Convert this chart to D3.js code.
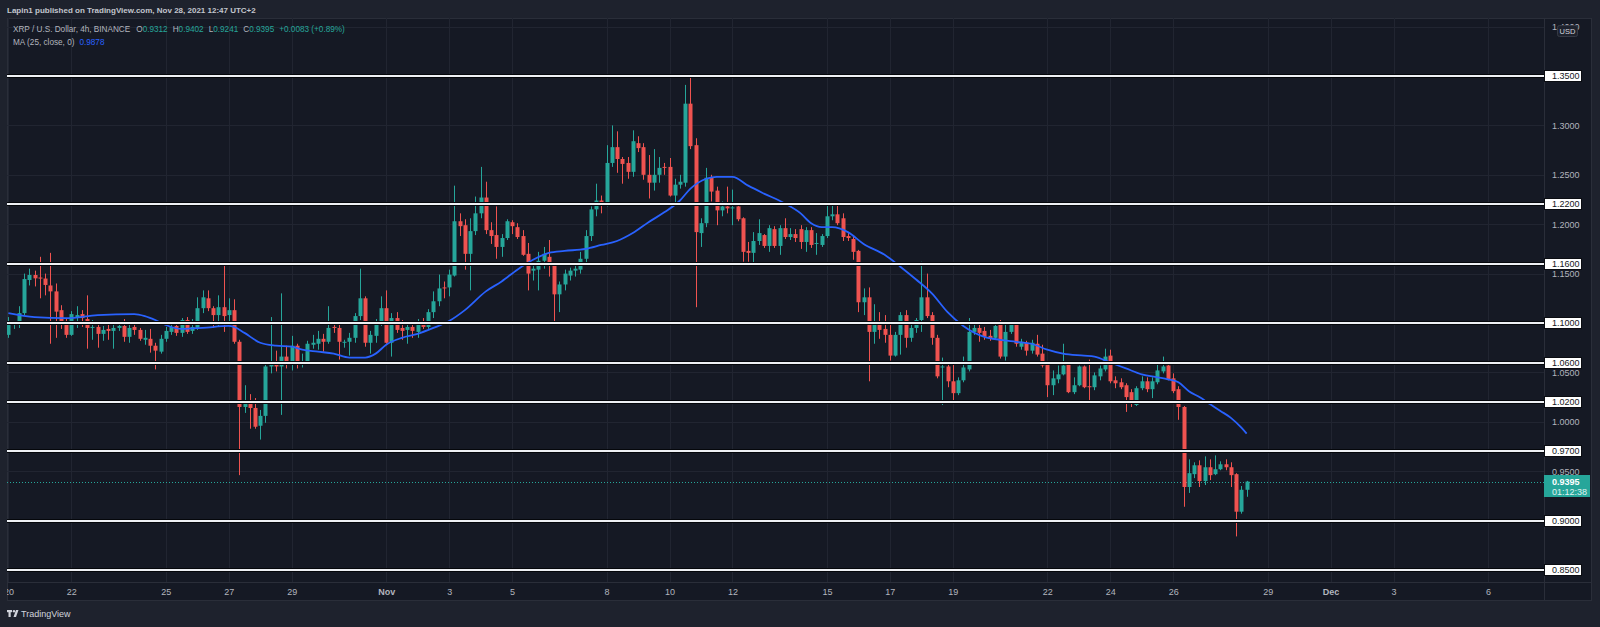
<!DOCTYPE html>
<html>
<head>
<meta charset="utf-8">
<script src="https://cdn.jsdelivr.net/npm/d3@7"></script>
<style>
  html, body { margin: 0; padding: 0; background: #1e222d; }
  svg { display: block; }
  text { font-family: "Liberation Sans", Arial, sans-serif; }
</style>
</head>
<body>
<div id="chart"></div>
<script>
// XRP / USD, 4h candles from Oct 20 2021 00:00
var opens = [
  1.088,1.098,1.100,1.110,1.1435,1.1486,1.146,1.145,1.138,1.132,
  1.113,1.098,1.088,1.106,1.109,1.104,1.095,1.096,1.089,1.094,
  1.092,1.095,1.097,1.086,1.096,1.093,1.083,1.084,1.077,1.071,
  1.084,1.091,1.097,1.090,1.103,1.092,1.095,1.115,1.125,1.115,
  1.108,1.116,1.108,1.113,1.081,1.015,1.022,1.014,0.996,1.006,
  1.056,1.060,1.056,1.066,1.059,1.077,1.058,1.061,1.078,1.079,
  1.084,1.081,1.096,1.095,1.081,1.081,1.085,1.107,1.125,1.080,
  1.087,1.100,1.115,1.080,1.105,1.095,1.093,1.096,1.091,1.100,
  1.096,1.111,1.122,1.136,1.136,1.148,1.203,1.199,1.170,1.193,
  1.211,1.227,1.194,1.189,1.177,1.186,1.202,1.197,1.188,1.170,
  1.153,1.154,1.163,1.167,1.158,1.129,1.139,1.148,1.153,1.154,
  1.165,1.188,1.215,1.224,1.220,1.262,1.278,1.266,1.262,1.253,
  1.282,1.278,1.250,1.242,1.250,1.258,1.258,1.229,1.240,1.242,
  1.322,1.280,1.191,1.201,1.247,1.234,1.214,1.218,1.216,1.218,
  1.206,1.173,1.171,1.183,1.189,1.178,1.195,1.178,1.196,1.187,
  1.190,1.195,1.182,1.194,1.180,1.179,1.188,1.208,1.210,1.206,
  1.188,1.185,1.173,1.121,1.126,1.091,1.100,1.094,1.088,1.067,
  1.088,1.108,1.085,1.095,1.103,1.126,1.108,1.085,1.055,1.056,
  1.041,1.029,1.042,1.053,1.091,1.095,1.092,1.087,1.085,1.098,
  1.066,1.091,1.098,1.076,1.080,1.072,1.079,1.069,1.059,1.037,
  1.043,1.048,1.058,1.030,1.037,1.056,1.036,1.035,1.046,1.053,
  1.067,1.042,1.040,1.037,1.030,1.017,1.034,1.041,1.033,1.040,
  1.051,1.057,1.044,1.033,1.015,0.934,0.947,0.956,0.940,0.954,
  0.947,0.952,0.957,0.954,0.947,0.909,0.9312
];
var highs = [
  1.106,1.102,1.117,1.150,1.155,1.153,1.167,1.150,1.171,1.140,
  1.118,1.105,1.112,1.117,1.113,1.128,1.103,1.100,1.097,1.102,
  1.099,1.101,1.104,1.098,1.100,1.095,1.093,1.094,1.080,1.088,
  1.096,1.099,1.101,1.105,1.106,1.104,1.126,1.133,1.133,1.117,
  1.128,1.160,1.125,1.124,1.083,1.037,1.028,1.024,1.012,1.061,
  1.106,1.072,1.130,1.077,1.087,1.079,1.069,1.082,1.088,1.092,
  1.089,1.117,1.102,1.099,1.083,1.090,1.110,1.155,1.127,1.092,
  1.104,1.127,1.133,1.110,1.111,1.103,1.099,1.098,1.104,1.105,
  1.114,1.132,1.149,1.142,1.154,1.239,1.211,1.205,1.206,1.228,
  1.258,1.243,1.202,1.218,1.190,1.205,1.204,1.201,1.194,1.181,
  1.160,1.172,1.177,1.184,1.160,1.142,1.154,1.156,1.160,1.172,
  1.194,1.218,1.241,1.229,1.280,1.300,1.294,1.268,1.268,1.295,
  1.289,1.282,1.270,1.276,1.268,1.262,1.267,1.246,1.250,1.341,
  1.350,1.287,1.206,1.257,1.250,1.238,1.223,1.238,1.235,1.219,
  1.207,1.182,1.192,1.205,1.190,1.199,1.198,1.199,1.206,1.196,
  1.195,1.199,1.197,1.197,1.191,1.190,1.219,1.221,1.219,1.211,
  1.191,1.187,1.174,1.135,1.136,1.119,1.111,1.108,1.099,1.091,
  1.111,1.113,1.100,1.105,1.162,1.150,1.111,1.088,1.065,1.058,
  1.060,1.045,1.066,1.105,1.098,1.099,1.096,1.093,1.100,1.103,
  1.099,1.100,1.099,1.084,1.082,1.083,1.088,1.078,1.060,1.052,
  1.057,1.079,1.059,1.045,1.057,1.057,1.063,1.050,1.057,1.074,
  1.073,1.046,1.044,1.039,1.033,1.036,1.046,1.045,1.045,1.061,
  1.066,1.058,1.049,1.036,1.016,0.962,0.959,0.961,0.965,0.962,
  0.966,0.960,0.962,0.959,0.948,0.935,0.9402
];
var lows = [
  1.085,1.094,1.095,1.108,1.138,1.137,1.125,1.128,1.079,1.085,
  1.094,1.085,1.087,1.095,1.096,1.074,1.083,1.075,1.082,1.083,
  1.074,1.092,1.081,1.080,1.088,1.082,1.078,1.070,1.053,1.069,
  1.081,1.088,1.087,1.086,1.089,1.089,1.093,1.110,1.112,1.095,
  1.096,1.091,1.098,1.079,0.946,1.009,0.993,0.993,0.982,0.999,
  1.049,1.051,1.007,1.054,1.052,1.054,1.055,1.058,1.074,1.073,
  1.071,1.079,1.090,1.063,1.075,1.067,1.080,1.103,1.076,1.069,
  1.080,1.097,1.079,1.066,1.090,1.083,1.079,1.085,1.085,1.094,
  1.094,1.105,1.117,1.125,1.127,1.147,1.188,1.154,1.133,1.189,
  1.206,1.190,1.180,1.165,1.167,1.184,1.190,1.185,1.168,1.133,
  1.143,1.133,1.155,1.147,1.101,1.111,1.133,1.143,1.147,1.150,
  1.161,1.183,1.208,1.211,1.218,1.258,1.252,1.241,1.246,1.248,
  1.273,1.245,1.226,1.234,1.242,1.250,1.228,1.221,1.236,1.238,
  1.276,1.116,1.177,1.197,1.223,1.199,1.208,1.211,1.199,1.203,
  1.162,1.162,1.159,1.179,1.176,1.172,1.176,1.169,1.185,1.184,
  1.182,1.175,1.172,1.176,1.169,1.177,1.186,1.204,1.199,1.183,
  1.183,1.164,1.111,1.108,1.041,1.079,1.084,1.080,1.062,1.066,
  1.068,1.075,1.081,1.090,1.091,1.105,1.078,1.044,1.017,1.035,
  1.019,1.027,1.040,1.051,1.088,1.081,1.083,1.082,1.083,1.064,
  1.062,1.089,1.076,1.073,1.067,1.069,1.066,1.055,1.025,1.027,
  1.039,1.047,1.029,1.028,1.036,1.034,1.019,1.032,1.042,1.051,
  1.039,1.034,1.033,1.010,1.015,1.016,1.032,1.030,1.024,1.038,
  1.049,1.042,1.029,1.002,0.914,0.928,0.943,0.934,0.936,0.941,
  0.946,0.951,0.951,0.934,0.884,0.907,0.9241
];
var closes = [
  1.101,1.100,1.110,1.1445,1.1486,1.1452,1.145,1.1385,1.132,1.1115,
  1.098,1.088,1.109,1.108,1.105,1.095,1.096,1.089,1.093,1.092,
  1.095,1.097,1.086,1.095,1.093,1.084,1.085,1.077,1.072,1.084,
  1.092,1.096,1.090,1.103,1.091,1.096,1.115,1.126,1.115,1.108,
  1.116,1.107,1.113,1.081,1.015,1.022,1.014,0.995,1.006,1.056,
  1.060,1.056,1.066,1.059,1.077,1.059,1.061,1.079,1.080,1.084,
  1.081,1.095,1.095,1.081,1.081,1.085,1.107,1.125,1.080,1.088,
  1.100,1.115,1.080,1.105,1.093,1.092,1.096,1.092,1.101,1.096,
  1.111,1.122,1.135,1.135,1.149,1.203,1.198,1.170,1.193,1.211,
  1.227,1.194,1.188,1.177,1.186,1.203,1.198,1.187,1.169,1.150,
  1.155,1.163,1.170,1.159,1.129,1.139,1.150,1.153,1.155,1.165,
  1.188,1.215,1.224,1.220,1.262,1.278,1.266,1.261,1.253,1.284,
  1.277,1.250,1.242,1.250,1.257,1.257,1.229,1.240,1.243,1.322,
  1.279,1.192,1.201,1.247,1.233,1.214,1.218,1.216,1.217,1.205,
  1.172,1.171,1.183,1.191,1.178,1.196,1.178,1.196,1.187,1.190,
  1.186,1.182,1.194,1.179,1.181,1.188,1.208,1.210,1.201,1.187,
  1.186,1.172,1.121,1.126,1.091,1.100,1.093,1.088,1.067,1.088,
  1.108,1.085,1.095,1.103,1.126,1.107,1.085,1.046,1.056,1.041,
  1.029,1.042,1.055,1.091,1.095,1.090,1.086,1.084,1.097,1.066,
  1.091,1.098,1.079,1.081,1.072,1.080,1.068,1.057,1.037,1.044,
  1.048,1.057,1.030,1.037,1.056,1.035,1.035,1.047,1.054,1.066,
  1.041,1.039,1.035,1.025,1.018,1.034,1.041,1.033,1.041,1.052,
  1.056,1.043,1.031,1.015,0.934,0.948,0.956,0.940,0.954,0.946,
  0.952,0.957,0.954,0.946,0.909,0.9312,0.9395
];

// MA(25), at these bar numbers
var maBars = [0,5,11,17,24,26,28,30,33,37,42,43,45,48,51,54,56,59,62,65,
  68,70,72,75,78,81,84,87,91,94,97,100,103,106,110,113,116,119,122,125,
  128,130,133,135,138,141,144,148,151,153,155,157,160,163,167,170,173,176,179,182,
  186,189,192,195,198,201,205,207,210,213,216,219,221,223,225,227,229,231,233,235,236];
var maValues = [1.110,1.106,1.105,1.108,1.109,1.107,1.103,1.098,1.094,1.095,
  1.097,1.096,1.090,1.080,1.077,1.076,1.073,1.071,1.069,1.065,
  1.065,1.069,1.078,1.085,1.089,1.095,1.102,1.113,1.132,1.142,
  1.154,1.164,1.171,1.173,1.175,1.179,1.183,1.191,1.202,1.212,
  1.224,1.236,1.246,1.248,1.248,1.239,1.231,1.221,1.211,1.201,
  1.197,1.197,1.192,1.180,1.169,1.157,1.144,1.130,1.111,1.097,
  1.086,1.083,1.081,1.079,1.073,1.069,1.067,1.066,1.060,1.054,
  1.048,1.045,1.043,1.040,1.031,1.025,1.018,1.011,1.004,0.994,0.988];

// horizontal support / resistance lines
var levels = [1.35, 1.22, 1.16, 1.10, 1.06, 1.02, 0.97, 0.90, 0.85];
var priceTicks = [0.85,0.90,0.95,1.00,1.05,1.10,1.15,1.20,1.25,1.30,1.35,1.40];
var dateTicks = ["2021-10-20","2021-10-22","2021-10-25","2021-10-27","2021-10-29",
  "2021-11-01","2021-11-03","2021-11-05","2021-11-08","2021-11-10","2021-11-12",
  "2021-11-15","2021-11-17","2021-11-19","2021-11-22","2021-11-24","2021-11-26",
  "2021-11-29","2021-12-01","2021-12-03","2021-12-06"];
var lastPrice = 0.9395;
var maLast = 0.9878;

var W = 1600, H = 627;
var paneL = 7, paneR = 1544, paneT = 18, paneB = 582, axisR = 1592, axisB = 601;
var upCol = "#26a69a", downCol = "#ef5350";

var svg = d3.select("#chart").append("svg").attr("width", W).attr("height", H);

svg.append("rect").attr("width", W).attr("height", H).attr("fill", "#1e222d");
svg.append("rect")
  .attr("x", paneL + 0.5).attr("y", paneT + 0.5)
  .attr("width", axisR - paneL - 1).attr("height", axisB - paneT - 1)
  .attr("fill", "#151924").attr("stroke", "#2a2e39");

var defs = svg.append("defs");
defs.append("clipPath").attr("id", "pane")
  .append("rect").attr("x", paneL).attr("y", paneT).attr("width", paneR - paneL).attr("height", paneB - paneT);
defs.append("clipPath").attr("id", "timeaxis")
  .append("rect").attr("x", paneL).attr("y", paneB).attr("width", paneR - paneL).attr("height", axisB - paneB);
// top tick (1.4000) is mostly hidden by the USD badge
defs.append("clipPath").attr("id", "priceaxis")
  .append("rect").attr("x", paneR).attr("y", 22).attr("width", axisR - paneR).attr("height", axisB - 22);

var parseDay = d3.utcParse("%Y-%m-%d");
var tickDates = dateTicks.map(parseDay);
var start = Date.UTC(2021, 9, 20);
var times = closes.map(function (c, i) { return new Date(start + i * 4 * 3600 * 1000); });

var x = d3.scaleUtc()
  .domain([parseDay("2021-10-20"), parseDay("2021-12-01")])
  .range([8.4, 1330.6]);
var y = d3.scaleLinear().domain([0.85, 1.35]).range([570, 76]);

// grid
var grid = svg.append("g").attr("clip-path", "url(#pane)");
grid.selectAll(".hg").data(priceTicks).join("line")
  .attr("x1", paneL).attr("x2", paneR)
  .attr("y1", function (d) { return Math.round(y(d)) + 0.5; })
  .attr("y2", function (d) { return Math.round(y(d)) + 0.5; })
  .attr("stroke", "#212531");
grid.selectAll(".vg").data(tickDates).join("line")
  .attr("x1", function (d) { return Math.round(x(d)) + 0.5; })
  .attr("x2", function (d) { return Math.round(x(d)) + 0.5; })
  .attr("y1", paneT).attr("y2", paneB)
  .attr("stroke", "#212531");

// separators
svg.append("line").attr("x1", paneR + 0.5).attr("x2", paneR + 0.5).attr("y1", paneT).attr("y2", axisB).attr("stroke", "#2a2e39");
svg.append("line").attr("x1", paneL).attr("x2", axisR).attr("y1", paneB + 0.5).attr("y2", paneB + 0.5).attr("stroke", "#2a2e39");

var plot = svg.append("g").attr("clip-path", "url(#pane)");

// last price dotted line
plot.append("line")
  .attr("x1", paneL).attr("x2", paneR)
  .attr("y1", Math.round(y(lastPrice)) + 0.5).attr("y2", Math.round(y(lastPrice)) + 0.5)
  .attr("stroke", upCol).attr("stroke-dasharray", "1,2");

var candles = times.map(function (t, i) {
  return { t: t, o: opens[i], h: highs[i], l: lows[i], c: closes[i] };
});
function col(d) { return d.c >= d.o ? upCol : downCol; }

plot.selectAll(".wick").data(candles).join("line")
  .attr("x1", function (d) { return Math.round(x(d.t)) + 0.5; })
  .attr("x2", function (d) { return Math.round(x(d.t)) + 0.5; })
  .attr("y1", function (d) { return y(d.h); })
  .attr("y2", function (d) { return y(d.l); })
  .attr("stroke", col);

plot.selectAll(".body").data(candles).join("rect")
  .attr("x", function (d) { return Math.round(x(d.t)) - 1.5; })
  .attr("width", 4)
  .attr("y", function (d) { return y(Math.max(d.o, d.c)); })
  .attr("height", function (d) { return Math.max(1, Math.abs(y(d.o) - y(d.c))); })
  .attr("fill", col);

// moving average
var maPts = maBars.map(function (b, i) { return { t: times[b], v: maValues[i] }; });
plot.append("path").datum(maPts)
  .attr("d", d3.line().x(function (d) { return x(d.t); }).y(function (d) { return y(d.v); }).curve(d3.curveMonotoneX))
  .attr("fill", "none").attr("stroke", "#2962ff").attr("stroke-width", 1.8);

// level lines
var lv = plot.selectAll(".lvl").data(levels).join("g");
lv.append("line")
  .attr("x1", paneL).attr("x2", paneR)
  .attr("y1", function (d) { return Math.round(y(d)); })
  .attr("y2", function (d) { return Math.round(y(d)); })
  .attr("stroke", "#05070b").attr("stroke-width", 4);
lv.append("line")
  .attr("x1", paneL).attr("x2", paneR)
  .attr("y1", function (d) { return Math.round(y(d)); })
  .attr("y2", function (d) { return Math.round(y(d)); })
  .attr("stroke", "#eef0f4").attr("stroke-width", 2);

// time axis
var xAxis = svg.append("g").attr("clip-path", "url(#timeaxis)")
  .append("g").attr("transform", "translate(0," + paneB + ")")
  .call(d3.axisBottom(x).tickValues(tickDates).tickSize(0).tickPadding(7)
    .tickFormat(function (d) { return d.getUTCDate() === 1 ? d3.utcFormat("%b")(d) : d.getUTCDate(); }));
xAxis.select(".domain").remove();
xAxis.selectAll("text").attr("fill", "#b2b5be").attr("font-size", 9)
  .attr("font-weight", function (d) { return d.getUTCDate() === 1 ? "bold" : null; });

// price axis
var yAxis = svg.append("g").attr("clip-path", "url(#priceaxis)")
  .append("g").attr("transform", "translate(" + paneR + ",0)")
  .call(d3.axisRight(y).tickValues(priceTicks).tickSize(0).tickPadding(8).tickFormat(d3.format(".4f")));
yAxis.select(".domain").remove();
yAxis.selectAll("text").attr("fill", "#b2b5be").attr("font-size", 9);

// level price boxes
var lb = svg.selectAll(".lb").data(levels).join("g")
  .attr("transform", function (d) { return "translate(" + paneR + "," + Math.round(y(d)) + ")"; });
lb.append("rect").attr("x", 0.5).attr("y", -5.5).attr("width", 37).attr("height", 11)
  .attr("fill", "#ffffff").attr("stroke", "#0b0d12");
lb.append("text").attr("x", 8).attr("y", 3.3).attr("font-size", 9).attr("fill", "#131722")
  .text(function (d) { return d3.format(".4f")(d); });

// last price label
var lp = svg.append("g").attr("transform", "translate(" + paneR + "," + Math.round(y(lastPrice)) + ")");
lp.append("rect").attr("x", 0).attr("y", -7).attr("width", 46).attr("height", 22).attr("fill", upCol);
lp.append("text").attr("x", 8).attr("y", 2.5).attr("font-size", 9).attr("font-weight", "bold").attr("fill", "#ffffff").text(d3.format(".4f")(lastPrice));
lp.append("text").attr("x", 8).attr("y", 12.5).attr("font-size", 9).attr("fill", "#e0f2f1").text("01:12:38");

// USD badge
svg.append("rect").attr("x", 1557.5).attr("y", 25.5).attr("width", 20).attr("height", 11).attr("rx", 2)
  .attr("fill", "#1e222d").attr("stroke", "#363a45");
svg.append("text").attr("x", 1567.5).attr("y", 33.5).attr("text-anchor", "middle").attr("font-size", 7.5)
  .attr("fill", "#d1d4dc").text("USD");

// header
svg.append("text").attr("x", 7).attr("y", 13).attr("font-size", 8).attr("font-weight", "bold")
  .attr("fill", "#c3c6ce").text("Lapin1 published on TradingView.com, Nov 28, 2021 12:47 UTC+2");

var leg = svg.append("text").attr("x", 13).attr("y", 32).attr("font-size", 8.2).attr("fill", "#b2b5be");
leg.append("tspan").text("XRP / U.S. Dollar, 4h, BINANCE");
var last = candles[candles.length - 1];
var chg = last.c - candles[candles.length - 2].c;
[["O", last.o], ["H", last.h], ["L", last.l], ["C", last.c]].forEach(function (p, i) {
  leg.append("tspan").attr("dx", i === 0 ? 6 : 5).text(p[0]);
  leg.append("tspan").attr("fill", upCol).text(d3.format(".4f")(p[1]));
});
leg.append("tspan").attr("dx", 5).attr("fill", upCol)
  .text("+" + d3.format(".4f")(chg) + " (+" + d3.format(".2f")(chg / candles[candles.length - 2].c * 100) + "%)");

var leg2 = svg.append("text").attr("x", 13).attr("y", 45).attr("font-size", 8.2).attr("fill", "#b2b5be");
leg2.append("tspan").text("MA (25, close, 0)");
leg2.append("tspan").attr("dx", 5).attr("fill", "#2962ff").text(d3.format(".4f")(maLast));

// TradingView logo
var logo = svg.append("g").attr("transform", "translate(7,610)").attr("fill", "#d1d4dc");
logo.append("rect").attr("x", 0).attr("y", 0).attr("width", 5).attr("height", 2.2);
logo.append("rect").attr("x", 1.5).attr("y", 0).attr("width", 2.2).attr("height", 7);
logo.append("circle").attr("cx", 7).attr("cy", 1.2).attr("r", 1.2);
logo.append("path").attr("d", "M9,0 L11.5,0 L9,7 L6.5,7 Z");
svg.append("text").attr("x", 21).attr("y", 617).attr("font-size", 9).attr("fill", "#d1d4dc").text("TradingView");
</script>
</body>
</html>
